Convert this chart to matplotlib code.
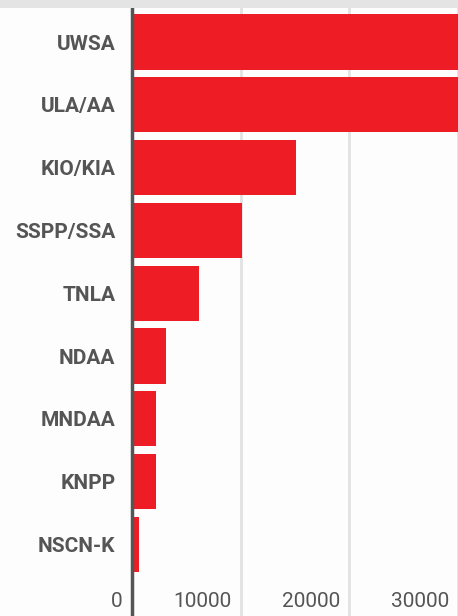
import matplotlib
matplotlib.use("Agg")
import matplotlib.pyplot as plt
import matplotlib.transforms as mtransforms
from matplotlib.patches import Rectangle

groups = ["UWSA", "ULA/AA", "KIO/KIA", "SSPP/SSA", "TNLA", "NDAA", "MNDAA", "KNPP", "NSCN-K"]
fighters = [30000, 30000, 15100, 10100, 6200, 3100, 2200, 2200, 600]
x_ticks = [0, 10000, 20000, 30000]
x_tick_labels = ["0", "10000", "20000", "30000"]

plt.rcParams["font.family"] = ["Roboto", "DejaVu Sans"]

W, H = 458, 616
fig = plt.figure(figsize=(W / 100, H / 100), dpi=100)
fig.patch.set_facecolor("#fdfdfd")

# grey strip along the top edge
fig.patches.append(Rectangle((0, 1 - 8 / H), 1, 8 / H, transform=fig.transFigure,
                             facecolor="#e4e4e4", edgecolor="none", zorder=0))

ax = fig.add_axes([132 / W, 0, 1 - 132 / W, 1 - 8 / H])
ax.set_facecolor("none")

pitch = 62.8
n = len(groups)
top = -0.5 - 2.6 / pitch
bottom = top + (H - 8) / pitch
ax.set_ylim(bottom, top)
ax.set_xlim(0, (W - 132) / 110 * 10000)

ax.barh(range(n), fighters, height=0.88, color="#ee1c25", edgecolor="none", zorder=2)

ax.set_yticks(range(n))
ax.set_yticklabels(groups, fontsize=15, fontweight="bold", color="#555555")
ax.tick_params(axis="y", length=0, pad=12)

ax.set_xticks(x_ticks)
ax.set_xticklabels(x_tick_labels, fontsize=15, color="#555555", ha="right")
ax.tick_params(axis="x", length=0, pad=-17.5)
shift = mtransforms.ScaledTranslation(-9 / 100, 0, fig.dpi_scale_trans)
for lbl in ax.get_xticklabels():
    lbl.set_transform(lbl.get_transform() + shift)

ax.grid(axis="x", color="#e2e2e2", linewidth=2, zorder=0)
ax.set_axisbelow(True)

for s in ["top", "right", "bottom"]:
    ax.spines[s].set_visible(False)
ax.spines["left"].set_color("#555555")
ax.spines["left"].set_linewidth(2.5)
ax.spines["left"].set_zorder(3)

fig.savefig("out.png", dpi=100, facecolor=fig.get_facecolor())
